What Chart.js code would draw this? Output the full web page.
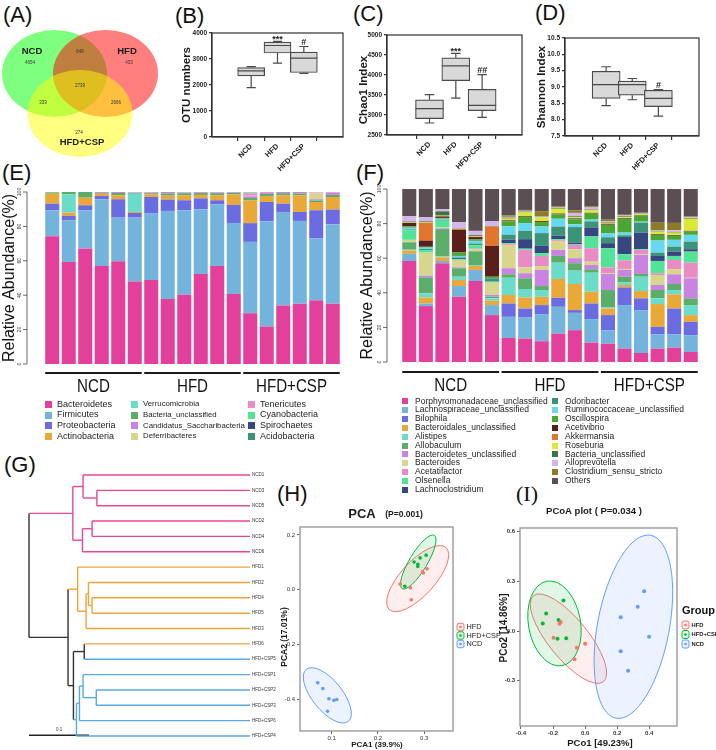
<!DOCTYPE html>
<html>
<head>
<meta charset="utf-8">
<title>Gut microbiota panels</title>
<script src="https://cdn.jsdelivr.net/npm/chart.js@4.4.1/dist/chart.umd.min.js"></script>
<style>
  body { margin: 0; background: #fff; }
  #page { position: relative; width: 716px; height: 750px; overflow: hidden; font-family: "Liberation Sans", Arial, sans-serif; color: #111; }
  #page canvas { position: absolute; }
  .panel { position: absolute; font-size: 22px; line-height: 22px; }
  .key { position: absolute; white-space: nowrap; line-height: 1; color: #222; }
  .key b { position: absolute; left: 0; }
</style>
</head>
<body>
<div id="page">
  <div class="panel" style="left:3px;top:4px">(A)</div>
  <div class="panel" style="left:175px;top:5px">(B)</div>
  <div class="panel" style="left:353px;top:3px">(C)</div>
  <div class="panel" style="left:535px;top:2px">(D)</div>
  <div class="panel" style="left:2px;top:162px">(E)</div>
  <div class="panel" style="left:356px;top:162px">(F)</div>
  <div class="panel" style="left:4px;top:454px">(G)</div>
  <div class="panel" style="left:277px;top:483px">(H)</div>
  <div class="panel" style="left:516px;top:483px;font-family:'Liberation Serif',serif">(I)</div>
</div>
<script>
// ---------- (A) Venn ----------
const vennSets = ['NCD', 'HFD', 'HFD+CSP'];
const vennRegions = ['NCD', 'HFD', 'HFD+CSP', 'NCD&HFD', 'NCD&HFD+CSP', 'HFD&HFD+CSP', 'all'];
const vennCounts = [4654, 433, 274, 648, 333, 2666, 2739];

// ---------- (B)-(D) alpha diversity ----------
const groups = ['NCD', 'HFD', 'HFD+CSP'];
const otuMin = [1900, 2840, 2450];
const otuQ1 = [2350, 3230, 2480];
const otuMed = [2540, 3520, 3030];
const otuQ3 = [2670, 3650, 3265];
const otuMax = [2710, 3680, 3480];
const otuSig = ['', '***', '#'];

const chaoMin = [2800, 3420, 2940];
const chaoQ1 = [2910, 3860, 3110];
const chaoMed = [3160, 4230, 3240];
const chaoQ3 = [3380, 4430, 3640];
const chaoMax = [3510, 4540, 4010];
const chaoSig = ['', '***', '##'];

const shanMin = [8.43, 8.61, 8.11];
const shanQ1 = [8.65, 8.75, 8.40];
const shanMed = [9.07, 9.07, 8.65];
const shanQ3 = [9.48, 9.18, 8.90];
const shanMax = [9.62, 9.26, 8.92];
const shanSig = ['', '', '#'];

// ---------- (E) phylum level ----------
const samples = ['NCD1', 'NCD2', 'NCD3', 'NCD4', 'NCD5', 'NCD6', 'HFD1', 'HFD2', 'HFD3', 'HFD4', 'HFD5', 'HFD6',
  'HFD+CSP1', 'HFD+CSP2', 'HFD+CSP3', 'HFD+CSP4', 'HFD+CSP5', 'HFD+CSP6'];
const abundanceTicks = [0, 20, 40, 60, 80, 100];

const phyla = ['Bacteroidetes', 'Firmicutes', 'Proteobacteria', 'Actinobacteria', 'Verrucomicrobia', 'Bacteria_unclassified',
  'Candidatus_Saccharibacteria', 'Deferribacteres', 'Tenericutes', 'Cyanobacteria', 'Spirochaetes', 'Acidobacteria'];
const bacteroidetes = [74.3, 59.3, 67.2, 57.0, 59.8, 47.9, 48.8, 37.8, 40.2, 52.3, 57.0, 40.7, 29.5, 21.8, 34.0, 35.0, 37.0, 35.0];
const firmicutes = [15.1, 24.3, 22.2, 38.8, 25.3, 37.2, 38.8, 51.2, 49.2, 37.7, 35.9, 41.3, 41.5, 61.2, 54.4, 48.2, 36.0, 46.3];
const proteobacteria = [3.8, 2.5, 2.9, 1.9, 10.7, 2.7, 9.5, 6.6, 5.8, 6.3, 2.3, 10.5, 10.9, 11.2, 4.8, 5.2, 16.4, 8.5];
const actinobacteria = [5.8, 1.9, 4.4, 1.3, 2.3, 0.6, 1.5, 2.3, 2.9, 2.0, 2.9, 6.1, 13.3, 3.5, 4.9, 9.7, 4.8, 7.3];
const verrucomicrobia = [0, 10.6, 0, 0, 0, 10.6, 0, 0, 0, 0, 0, 0, 0, 0, 0, 0, 0, 0];
const bacteriaUnclPhy = [0.8, 1.4, 3.3, 0.5, 1.3, 0.5, 0.7, 1.3, 1.2, 1.1, 1.2, 0.9, 1.3, 1.2, 1.2, 1.0, 0.8, 1.2];
const saccharibacteria = [0, 0, 0, 0.5, 0.6, 0.3, 0.3, 0.8, 0.5, 0.5, 0.5, 0.4, 1.0, 0.6, 0.7, 0.9, 0.8, 1.4];
const deferribacteres = [0, 0, 0, 0, 0, 0, 0, 0, 0, 0, 0, 0, 0.3, 0, 0, 0, 3.5, 0];
const tenericutes = [0.1, 0, 0, 0, 0, 0.1, 0.4, 0, 0.1, 0.1, 0.2, 0.1, 1.5, 0.5, 0, 0, 0.5, 0.3];
const cyanobacteria = [0, 0, 0, 0, 0, 0, 0, 0, 0, 0, 0, 0, 0.5, 0, 0, 0, 0, 0];
const spirochaetes = [0, 0, 0, 0, 0, 0, 0, 0, 0, 0, 0, 0, 0.1, 0, 0, 0, 0, 0];
const acidobacteria = [0, 0, 0, 0, 0, 0, 0, 0, 0, 0, 0, 0, 0, 0, 0, 0, 0, 0];
const phylumSeries = [bacteroidetes, firmicutes, proteobacteria, actinobacteria, verrucomicrobia, bacteriaUnclPhy,
  saccharibacteria, deferribacteres, tenericutes, cyanobacteria, spirochaetes, acidobacteria];
const phylumColors = ['#e2409a', '#74b3dc', '#6c6ce2', '#e9a838', '#6cdcca', '#5aae6a',
  '#c984e2', '#d6d68c', '#ea8cc4', '#52e496', '#36467e', '#3c9274'];

// ---------- (F) genus level ----------
const genera = ['Porphyromonadaceae_unclassified', 'Lachnospiraceae_unclassified', 'Bilophila', 'Bacteroidales_unclassified',
  'Alistipes', 'Allobaculum', 'Bacteroidetes_unclassified', 'Bacteroides', 'Acetatifactor', 'Olsenella', 'Lachnoclostridium',
  'Odoribacter', 'Ruminococcaceae_unclassified', 'Oscillospira', 'Acetivibrio', 'Akkermansia', 'Roseburia',
  'Bacteria_unclassified', 'Alloprevotella', 'Clostridium_sensu_stricto', 'Others'];
const porphyromonadaceae = [58.4, 32.3, 57.1, 37.7, 46.8, 27.1, 13.9, 13.5, 12.0, 16.4, 18.4, 11.2, 10.6, 7.7, 5.2, 7.7, 8.3, 5.8];
const lachnospiraceae = [4.1, 1.5, 1.3, 6.2, 6.0, 5.8, 12.2, 12.2, 15.7, 15.5, 10.0, 13.6, 7.8, 25.2, 24.8, 8.4, 7.8, 9.7];
const bilophila = [0, 0, 0, 0, 0.4, 0, 7.7, 5.2, 5.2, 5.2, 1.6, 9.0, 8.7, 10.2, 6.8, 4.2, 14.8, 7.7];
const bacteroidales = [1.9, 3.5, 2.1, 3.5, 2.3, 2.5, 4.9, 6.4, 4.8, 10.9, 15.1, 6.8, 3.8, 1.4, 4.2, 13.2, 8.2, 3.9];
const alistipes = [0.5, 2.4, 0.5, 1.9, 0.5, 1.4, 10.0, 4.9, 3.9, 9.4, 7.7, 11.0, 0.6, 1.5, 8.3, 3.3, 2.5, 5.8];
const allobaculum = [4.3, 9.2, 15.8, 4.9, 8.0, 1.0, 2.0, 6.2, 2.3, 3.9, 4.3, 2.0, 10.1, 3.3, 1.6, 4.8, 3.5, 3.9];
const bacteroidetesUncl = [0, 1.0, 0.5, 0.5, 0, 1.0, 3.5, 2.9, 9.3, 3.5, 2.9, 2.5, 9.3, 3.9, 11.0, 2.9, 5.6, 11.6];
const bacteroides = [1.4, 13.3, 0.5, 4.3, 1.0, 7.1, 13.5, 3.4, 2.3, 5.2, 5.2, 1.9, 0.5, 0.6, 0.4, 5.8, 2.9, 0.3];
const acetatifactor = [0, 0, 0, 0, 0.5, 0, 0.5, 10.1, 5.8, 0.5, 2.5, 7.8, 3.3, 5.0, 2.5, 1.0, 5.4, 8.7];
const olsenella = [5.5, 1.5, 3.9, 0.5, 2.0, 0.5, 0.5, 0.7, 1.6, 0.5, 0.5, 6.8, 11.1, 3.5, 0.5, 7.1, 2.3, 6.4];
const lachnoclostridium = [0, 0, 0, 0.5, 0, 0, 2.0, 5.5, 4.2, 2.0, 0.8, 5.2, 2.9, 10.0, 9.5, 2.9, 2.5, 1.4];
const odoribacter = [0.5, 0.6, 0.5, 0.5, 1.0, 2.0, 2.9, 4.8, 7.4, 5.3, 9.0, 3.5, 3.4, 1.0, 5.8, 1.9, 2.9, 4.4];
const ruminococcaceae = [1.0, 0.8, 0.6, 0.8, 1.5, 0, 4.8, 4.5, 3.8, 4.5, 1.6, 1.0, 2.4, 1.5, 0.5, 7.0, 3.9, 3.9];
const oscillospira = [0.8, 0.5, 0.5, 2.0, 1.0, 0.9, 2.9, 3.5, 2.6, 2.5, 2.9, 3.5, 4.8, 8.0, 3.5, 3.3, 2.3, 1.9];
const acetivibrio = [2.0, 3.6, 0.8, 13.2, 1.2, 17.8, 0.5, 0.4, 0.5, 0.5, 0.5, 0.4, 0.4, 0.4, 0.3, 0.4, 0.4, 0.4];
const akkermansia = [0, 10.2, 0.3, 0.3, 0.3, 11.2, 0.3, 0, 0, 0, 0, 0, 0.4, 0, 0, 0, 0, 0];
const roseburia = [0.3, 0.3, 0.2, 0.3, 0.3, 0, 0.8, 2.3, 2.3, 2.8, 0.7, 1.5, 0.4, 0.5, 0.5, 1.5, 1.5, 7.0];
const bacteriaUnclGen = [0.5, 0.6, 2.5, 0.3, 0.5, 0.3, 0.5, 0.4, 0.3, 0.5, 0.5, 0.4, 0.4, 0.5, 0.3, 0.4, 0.4, 0.4];
const alloprevotella = [3.0, 2.3, 1.2, 3.4, 2.5, 2.9, 0.5, 0.5, 0.3, 0.5, 2.0, 1.2, 0.4, 0.5, 0.3, 0.5, 1.0, 0.5];
const clostridiumSS = [0, 0, 0, 0, 0, 0, 0.8, 0.5, 2.9, 0.5, 1.5, 0.5, 1.0, 0.4, 0.3, 4.2, 4.2, 0.5];
const othersGen = [15.8, 16.4, 11.7, 19.2, 24.2, 18.5, 15.3, 12.1, 12.8, 9.9, 12.3, 10.2, 17.7, 14.9, 13.7, 19.5, 19.6, 15.8];
const genusSeries = [porphyromonadaceae, lachnospiraceae, bilophila, bacteroidales, alistipes, allobaculum, bacteroidetesUncl,
  bacteroides, acetatifactor, olsenella, lachnoclostridium, odoribacter, ruminococcaceae, oscillospira, acetivibrio,
  akkermansia, roseburia, bacteriaUnclGen, alloprevotella, clostridiumSS, othersGen];
const genusColors = ['#e2409a', '#74b3dc', '#6c6ce2', '#e9a838', '#6cdcca', '#5aae6a', '#c984e2', '#d6d68c', '#ea8cc4',
  '#52e496', '#36467e', '#3c9478', '#66d8f2', '#4aa832', '#5a1f1a', '#e2752e', '#dce838', '#3b7543', '#d4b6ec',
  '#8e7b2a', '#5b4f53'];

// ---------- (G) clustering tree ----------
const leaves = ['NCD1', 'NCD3', 'NCD5', 'NCD2', 'NCD4', 'NCD6', 'HFD1', 'HFD2', 'HFD4', 'HFD5', 'HFD3', 'HFD6',
  'HFD+CSP5', 'HFD+CSP1', 'HFD+CSP2', 'HFD+CSP3', 'HFD+CSP6', 'HFD+CSP4'];
const tipDepth = 0.368;
// h = node distance from root
const tree = {h: 0, c: [
  {h: 0.073, c: [
    {h: 0.090, c: ['NCD1', {h: 0.113, c: ['NCD3', 'NCD5']}]},
    {h: 0.089, c: [{h: 0.105, c: ['NCD2', 'NCD4']}, 'NCD6']}
  ]},
  {h: 0.065, c: [
    {h: 0.081, c: ['HFD1', {h: 0.095, c: [{h: 0.099, c: ['HFD2', {h: 0.105, c: ['HFD4', 'HFD5']}]}, 'HFD3']}]},
    {h: 0.074, c: [
      {h: 0.092, c: ['HFD6', 'HFD+CSP5']},
      {h: 0.079, c: [{h: 0.084, c: [{h: 0.090, c: ['HFD+CSP1', {h: 0.112, c: ['HFD+CSP2', 'HFD+CSP3']}]}, 'HFD+CSP6']}, 'HFD+CSP4']}
    ]}
  ]}
]};
const scaleBarLength = 0.1;

// ---------- (H) PCA / (I) PCoA ----------
const pcGroups = ['HFD', 'HFD+CSP', 'NCD'];
const pcaHFD = [[0.248, 0.020], [0.270, 0.007], [0.272, -0.037], [0.296, 0.065], [0.298, 0.061], [0.306, 0.076]];
const pcaCSP = [[0.258, 0.012], [0.278, 0.101], [0.286, 0.093], [0.286, 0.085], [0.291, 0.116], [0.304, 0.126]];
const pcaNCD = [[0.070, -0.341], [0.081, -0.362], [0.094, -0.399], [0.105, -0.405], [0.111, -0.402], [0.091, -0.445]];
const pcaEllipses = [
  {c: [0.2857, 0.0402], u: [0.0612, 0.1134], v: [0.0273, -0.0421]},
  {c: [0.287, 0.101], u: [0.0346, 0.0976], v: [0.0165, -0.0165]},
  {c: [0.0906, -0.3866], u: [0.0454, -0.0952], v: [0.0252, 0.0346]}
];
const pcoaHFD = [[-0.197, -0.040], [-0.160, 0.044], [-0.152, 0.054], [-0.052, -0.100], [0.000, -0.076], [-0.066, -0.170]];
const pcoaCSP = [[-0.243, 0.106], [-0.264, 0.046], [-0.166, 0.066], [-0.172, -0.046], [-0.118, -0.044], [-0.135, 0.184]];
const pcoaNCD = [[0.368, 0.240], [0.328, 0.146], [0.222, 0.084], [0.399, -0.034], [0.222, -0.122], [0.268, -0.240]];
const pcoaEllipses = [
  {c: [-0.104, -0.046], u: [0.218, -0.26], v: [0.097, 0.074]},
  {c: [-0.191, 0.046], u: [0.0467, -0.255], v: [0.160, 0.0272]},
  {c: [0.301, 0.026], u: [0.108, 0.552], v: [0.220, -0.04]}
];
const pcColors = ['#f8766d', '#00ba38', '#619cff'];
const pcFills = ['rgba(248,118,109,0.12)', 'rgba(0,186,56,0.12)', 'rgba(97,156,255,0.12)'];

// ================= drawing =================
Chart.defaults.font.family = '"Liberation Sans", Arial, sans-serif';
Chart.defaults.color = '#222';
Chart.defaults.animation = false;
Chart.defaults.responsive = false;
Chart.defaults.plugins.legend.display = false;
Chart.defaults.plugins.tooltip.enabled = false;

const page = document.getElementById('page');
const FONT = '"Liberation Sans", Arial, sans-serif';

function canvasAt(left, top, w, h) {
  const c = document.createElement('canvas');
  c.width = w;
  c.height = h;
  c.style.left = left + 'px';
  c.style.top = top + 'px';
  page.appendChild(c);
  return {el: c, left, top};
}

// texts given in page coordinates
function textLayer(cv, items) {
  return {
    id: 'textLayer',
    afterDraw(chart) {
      const ctx = chart.ctx;
      items.forEach(it => {
        ctx.save();
        ctx.font = it.font;
        ctx.fillStyle = it.color || '#1a1a1a';
        ctx.textAlign = it.align || 'center';
        ctx.textBaseline = 'middle';
        ctx.translate(it.x - cv.left, it.y - cv.top);
        if (it.rot) ctx.rotate(it.rot * Math.PI / 180);
        ctx.fillText(it.text, 0, 0);
        ctx.restore();
      });
    }
  };
}

// ellipse from centre + two conjugate semi-axes, all in data units
function ellipseLayer(list) {
  return {
    id: 'ellipseLayer',
    beforeDatasetsDraw(chart) {
      const {ctx, scales: {x, y}} = chart;
      list.forEach(e => {
        const cx = x.getPixelForValue(e.c[0]), cy = y.getPixelForValue(e.c[1]);
        const ux = x.getPixelForValue(e.c[0] + e.u[0]) - cx, uy = y.getPixelForValue(e.c[1] + e.u[1]) - cy;
        const vx = x.getPixelForValue(e.c[0] + e.v[0]) - cx, vy = y.getPixelForValue(e.c[1] + e.v[1]) - cy;
        ctx.save();
        ctx.beginPath();
        ctx.transform(ux, uy, vx, vy, cx, cy);
        ctx.arc(0, 0, 1, 0, Math.PI * 2);
        ctx.restore();
        ctx.save();
        if (e.fill) { ctx.fillStyle = e.fill; ctx.fill(); }
        if (e.stroke) { ctx.strokeStyle = e.stroke; ctx.lineWidth = e.lw || 1; ctx.stroke(); }
        ctx.restore();
      });
    }
  };
}

function frame(color, width) {
  return {
    id: 'frame',
    afterDraw(chart) {
      const {ctx, chartArea: a} = chart;
      ctx.save();
      ctx.strokeStyle = color;
      ctx.lineWidth = width;
      ctx.strokeRect(a.left, a.top, a.right - a.left, a.bottom - a.top);
      ctx.restore();
    }
  };
}

// ---------- (A) ----------
const vennLayout = {centers: [[54.5, 73.5], [105.5, 73.5], [80, 113.5]], rx: 52.5, ry: 43.5,
  labelPos: [[32, 51], [127, 51], [82, 142]],
  countPos: [[30, 63], [129, 63], [79, 133], [80, 52], [43, 103], [116, 103], [80, 86]]};
const vennFills = ['rgba(0,255,0,0.5)', 'rgba(255,0,0,0.5)', 'rgba(255,255,0,0.5)'];
const vennCv = canvasAt(0, 25, 165, 140);
new Chart(vennCv.el, {
  type: 'scatter',
  data: {datasets: []},
  options: {
    layout: {padding: 0},
    scales: {x: {display: false, min: 0, max: 165}, y: {display: false, min: 25, max: 165, reverse: true}}
  },
  plugins: [
    ellipseLayer(vennSets.map((s, i) => ({c: vennLayout.centers[i], u: [vennLayout.rx, 0], v: [0, vennLayout.ry], fill: vennFills[i]}))),
    textLayer(vennCv, vennSets.map((s, i) => ({text: s, x: vennLayout.labelPos[i][0], y: vennLayout.labelPos[i][1], font: 'bold 9.5px ' + FONT}))
      .concat(vennCounts.map((n, i) => ({text: String(n), x: vennLayout.countPos[i][0], y: vennLayout.countPos[i][1], font: '4.5px ' + FONT, color: '#333'}))))
  ]
});

// ---------- (B)-(D) ----------
function boxWhiskers(mins, meds, maxs, sigs) {
  return {
    id: 'boxWhiskers',
    afterDatasetsDraw(chart) {
      const {ctx, scales: {y}} = chart;
      const bars = chart.getDatasetMeta(0).data;
      ctx.save();
      ctx.strokeStyle = '#4a4a4a';
      ctx.lineWidth = 1.2;
      bars.forEach((bar, i) => {
        const w = bar.width, cx = bar.x;
        const top = Math.min(bar.y, bar.base), bottom = Math.max(bar.y, bar.base);
        const yMin = y.getPixelForValue(mins[i]), yMax = y.getPixelForValue(maxs[i]), yMed = y.getPixelForValue(meds[i]);
        const cap = w * 0.17;
        ctx.beginPath();
        ctx.moveTo(cx, top); ctx.lineTo(cx, yMax);
        ctx.moveTo(cx - cap, yMax); ctx.lineTo(cx + cap, yMax);
        ctx.moveTo(cx, bottom); ctx.lineTo(cx, yMin);
        ctx.moveTo(cx - cap, yMin); ctx.lineTo(cx + cap, yMin);
        ctx.moveTo(cx - w / 2, yMed); ctx.lineTo(cx + w / 2, yMed);
        ctx.stroke();
        if (sigs[i]) {
          ctx.fillStyle = '#222';
          ctx.font = 'bold 9px ' + FONT;
          ctx.textAlign = 'center';
          ctx.textBaseline = 'middle';
          ctx.fillText(sigs[i], cx, yMax - (sigs[i].includes('*') ? 1.5 : 4.5));
        }
      });
      ctx.restore();
    }
  };
}

function boxChart(cv, s) {
  new Chart(cv.el, {
    type: 'bar',
    data: {datasets: [{
      data: groups.map((g, i) => ({x: i, y: [s.q1[i], s.q3[i]]})),
      backgroundColor: '#d9d9d9', borderColor: '#4a4a4a', borderWidth: 1.2, borderSkipped: false,
      barThickness: s.boxW
    }]},
    options: {
      layout: {padding: {left: 0, right: s.padR, top: s.padT, bottom: 0}},
      scales: {
        x: {
          type: 'linear', min: s.xMin, max: s.xMax,
          afterBuildTicks(sc) { sc.ticks = groups.map((g, i) => ({value: i})); },
          afterFit(sc) { sc.height = s.xH; },
          ticks: {callback: v => groups[v], autoSkip: false, minRotation: 45, maxRotation: 45, padding: 1,
            font: {size: 7.5, weight: 'bold'}, color: '#222'},
          grid: {drawOnChartArea: false, tickLength: 4, color: '#333', lineWidth: 1.2},
          border: {color: '#333', width: 1.2}
        },
        y: {
          min: s.yMin, max: s.yMax,
          afterBuildTicks(sc) { sc.ticks = s.ticks.map(v => ({value: v})); },
          afterFit(sc) { sc.width = s.yW; },
          ticks: {callback: s.fmt, padding: 2, font: {size: 6.5, weight: 'bold'}, color: '#222'},
          grid: {drawOnChartArea: false, tickLength: 3, color: '#333', lineWidth: 1.2},
          border: {color: '#333', width: 1.2}
        }
      }
    },
    plugins: [boxWhiskers(s.min, s.med, s.max, s.sig), frame('#333', 1.2),
      textLayer(cv, [{text: s.title, x: s.titleX, y: s.titleY, rot: -90, font: 'bold 11.5px ' + FONT}])]
  });
}

boxChart(canvasAt(175, 25, 175, 165), {
  q1: otuQ1, q3: otuQ3, min: otuMin, med: otuMed, max: otuMax, sig: otuSig,
  yMin: 0, yMax: 4000, ticks: [0, 1000, 2000, 3000, 4000], fmt: v => String(v),
  xMin: -0.658, xMax: 2.658, boxW: 27, yW: 37, padR: 7, padT: 8, xH: 53,
  title: 'OTU numbers', titleX: 187, titleY: 85
});
boxChart(canvasAt(352, 25, 175, 165), {
  q1: chaoQ1, q3: chaoQ3, min: chaoMin, med: chaoMed, max: chaoMax, sig: chaoSig,
  yMin: 2500, yMax: 5000, ticks: [2500, 3000, 3500, 4000, 4500, 5000], fmt: v => String(v),
  xMin: -0.76, xMax: 2.66, boxW: 28, yW: 35, padR: 5, padT: 10, xH: 55,
  title: 'Chao1 Index', titleX: 364, titleY: 90
});
boxChart(canvasAt(530, 25, 180, 165), {
  q1: shanQ1, q3: shanQ3, min: shanMin, med: shanMed, max: shanMax, sig: shanSig,
  yMin: 7.5, yMax: 10.5, ticks: [7.5, 8, 8.5, 9, 9.5, 10, 10.5], fmt: v => v.toFixed(1),
  xMin: -0.72, xMax: 2.7, boxW: 28, yW: 35, padR: 11, padT: 13, xH: 54,
  title: 'Shannon Index', titleX: 542, titleY: 87
});

// ---------- (E) / (F) ----------
const sampleGroup = samples.map(s => s.replace(/\d+$/, ''));

function abundanceAxis(cfg) {
  return {
    id: 'abundanceAxis',
    afterDraw(chart) {
      const {ctx, scales: {y}} = chart;
      ctx.save();
      ctx.strokeStyle = '#444';
      ctx.lineWidth = 0.8;
      ctx.beginPath();
      ctx.moveTo(cfg.axisX, y.getPixelForValue(0));
      ctx.lineTo(cfg.axisX, y.getPixelForValue(100));
      abundanceTicks.forEach(v => {
        const py = y.getPixelForValue(v);
        ctx.moveTo(cfg.axisX, py);
        ctx.lineTo(cfg.axisX - 4, py);
      });
      ctx.stroke();
      ctx.fillStyle = '#333';
      ctx.font = '5px ' + FONT;
      ctx.textAlign = 'center';
      ctx.textBaseline = 'middle';
      abundanceTicks.forEach(v => {
        ctx.save();
        ctx.translate(cfg.axisX - 7.5, y.getPixelForValue(v));
        ctx.rotate(-Math.PI / 2);
        ctx.fillText(String(v), 0, 0);
        ctx.restore();
      });
      ctx.save();
      ctx.font = '16px ' + FONT;
      ctx.fillStyle = '#111';
      ctx.translate(cfg.titleX, (y.top + y.bottom) / 2);
      ctx.rotate(-Math.PI / 2);
      ctx.fillText('Relative Abundance(%)', 0, 0);
      ctx.restore();
      const bars = chart.getDatasetMeta(0).data;
      groups.forEach(g => {
        const first = sampleGroup.indexOf(g), last = sampleGroup.lastIndexOf(g);
        const x0 = bars[first].x - bars[first].width / 2, x1 = bars[last].x + bars[last].width / 2;
        ctx.strokeStyle = '#1a1a1a';
        ctx.lineWidth = 2.2;
        ctx.beginPath();
        ctx.moveTo(x0, cfg.groupY);
        ctx.lineTo(x1, cfg.groupY);
        ctx.stroke();
        // condensed group label
        ctx.save();
        ctx.fillStyle = '#111';
        ctx.font = '18px ' + FONT;
        ctx.translate((x0 + x1) / 2, cfg.labelY);
        ctx.scale(0.84, 1);
        ctx.fillText(g, 0, 0);
        ctx.restore();
      });
      ctx.restore();
    }
  };
}

function abundanceChart(cv, names, series, colors, pad, cfg) {
  new Chart(cv.el, {
    type: 'bar',
    data: {
      labels: samples,
      datasets: names.map((n, k) => ({label: n, data: series[k], backgroundColor: colors[k], borderWidth: 0,
        barPercentage: 0.85, categoryPercentage: 1}))
    },
    options: {
      layout: {padding: pad},
      scales: {
        x: {display: false, stacked: true},
        y: {display: false, stacked: true, min: 0, max: 100}
      }
    },
    plugins: [abundanceAxis(cfg)]
  });
}

function htmlLegend(names, colors, o) {
  names.forEach((n, k) => {
    const col = Math.floor(k / o.rows), row = k % o.rows;
    const size = o.sizes[col];
    const d = document.createElement('div');
    d.className = 'key';
    d.style.left = o.cols[col] + 'px';
    d.style.top = (o.top + row * o.step + (o.sizes[0] - size) / 2) + 'px';
    d.style.fontSize = size + 'px';
    d.style.paddingLeft = o.indent + 'px';
    const b = document.createElement('b');
    b.style.background = colors[k];
    b.style.width = o.box + 'px';
    b.style.height = o.box + 'px';
    b.style.top = ((size - o.box) / 2 + 0.5) + 'px';
    d.appendChild(b);
    d.appendChild(document.createTextNode(n));
    page.appendChild(d);
  });
}

abundanceChart(canvasAt(0, 180, 355, 218), phyla, phylumSeries, phylumColors,
  {left: 44, right: 14, top: 12, bottom: 34}, {axisX: 27, titleX: 10, groupY: 193, labelY: 207});
htmlLegend(phyla, phylumColors, {rows: 4, cols: [45, 131, 248], sizes: [9, 7.8, 9], top: 399.5, step: 10.7, indent: 12, box: 7});

abundanceChart(canvasAt(360, 180, 356, 218), genera, genusSeries, genusColors,
  {left: 41, right: 17, top: 9, bottom: 36}, {axisX: 27, titleX: 8, groupY: 192, labelY: 206});
htmlLegend(genera, genusColors, {rows: 11, cols: [402, 552], sizes: [8.5, 8.5], top: 396.5, step: 8.85, indent: 13, box: 6});

// ---------- (G) ----------
const treeBlack = '#333';
function leafColor(name) {
  if (name.startsWith('HFD+CSP')) return '#5aa9e2';
  if (name.startsWith('HFD')) return '#eda43a';
  return '#e8479a';
}
function layoutTree(node, segs) {
  if (typeof node === 'string') return {y: leaves.indexOf(node), col: leafColor(node), h: tipDepth};
  const kids = node.c.map(k => layoutTree(k, segs));
  const ys = kids.map(k => k.y);
  const col = kids.every(k => k.col === kids[0].col) ? kids[0].col : treeBlack;
  kids.forEach(k => segs.push({pts: [{x: node.h, y: k.y}, {x: k.h, y: k.y}], col: k.col}));
  segs.push({pts: [{x: node.h, y: Math.min(...ys)}, {x: node.h, y: Math.max(...ys)}], col});
  return {y: (Math.min(...ys) + Math.max(...ys)) / 2, col, h: node.h};
}
const treeSegs = [];
layoutTree(tree, treeSegs);
const scaleBarY = leaves.length - 1.05;

const treeCv = canvasAt(0, 460, 290, 290);
new Chart(treeCv.el, {
  type: 'scatter',
  data: {datasets: treeSegs.map(s => ({data: s.pts, showLine: true, borderColor: s.col, borderWidth: 1.4,
    pointRadius: 0, clip: false}))
    .concat([{data: [{x: 0, y: scaleBarY}, {x: scaleBarLength, y: scaleBarY}], showLine: true, borderColor: '#222',
      borderWidth: 1.4, pointRadius: 0, clip: false}])},
  options: {
    layout: {padding: {left: 29, right: 40, top: 15, bottom: 14}},
    scales: {x: {display: false, min: 0, max: tipDepth}, y: {display: false, min: 0, max: leaves.length - 1, reverse: true}}
  },
  plugins: [{
    id: 'leafLabels',
    afterDraw(chart) {
      const {ctx, chartArea, scales: {x, y}} = chart;
      ctx.save();
      ctx.fillStyle = '#333';
      ctx.font = '4.5px ' + FONT;
      ctx.textAlign = 'left';
      ctx.textBaseline = 'middle';
      leaves.forEach((n, i) => ctx.fillText(n, chartArea.right + 2, y.getPixelForValue(i)));
      ctx.textAlign = 'center';
      ctx.fillText(String(scaleBarLength), x.getPixelForValue(scaleBarLength / 2), y.getPixelForValue(scaleBarY) - 5);
      ctx.restore();
    }
  }]
});

// ---------- (H) / (I) ----------
function groupKeys(cfg) {
  return {
    id: 'groupKeys',
    afterDraw(chart) {
      const ctx = chart.ctx;
      ctx.save();
      ctx.textAlign = 'left';
      ctx.textBaseline = 'middle';
      if (cfg.title) {
        ctx.font = cfg.titleFont;
        ctx.fillStyle = '#111';
        ctx.fillText(cfg.title, cfg.x, cfg.titleY);
      }
      pcGroups.forEach((g, k) => {
        const y = cfg.ys[k];
        ctx.strokeStyle = pcColors[k];
        ctx.fillStyle = pcFills[k];
        ctx.lineWidth = 1;
        ctx.beginPath();
        if (ctx.roundRect) ctx.roundRect(cfg.x, y - cfg.h / 2, cfg.w, cfg.h, 2);
        else ctx.rect(cfg.x, y - cfg.h / 2, cfg.w, cfg.h);
        ctx.fill();
        ctx.stroke();
        ctx.fillStyle = pcColors[k];
        ctx.beginPath();
        ctx.arc(cfg.x + cfg.w / 2, y, 1.3, 0, Math.PI * 2);
        ctx.fill();
        ctx.fillStyle = '#222';
        ctx.font = cfg.font;
        ctx.fillText(g, cfg.x + cfg.w + cfg.gap, y);
      });
      ctx.restore();
    }
  };
}

function pcChart(cv, s) {
  const pts = [s.hfd, s.csp, s.ncd];
  new Chart(cv.el, {
    type: 'scatter',
    data: {datasets: pcGroups.map((g, k) => ({label: g, data: pts[k].map(p => ({x: p[0], y: p[1]})),
      backgroundColor: pcColors[k], borderWidth: 0, pointRadius: s.r}))},
    options: {
      layout: {padding: {left: 0, right: s.padR, top: s.padT, bottom: 0}},
      scales: {
        x: {
          min: s.xMin, max: s.xMax,
          afterBuildTicks(sc) { sc.ticks = s.xTicks.map(v => ({value: v})); },
          afterFit(sc) { sc.height = s.xH; },
          ticks: {callback: v => v.toFixed(1), padding: 1, font: {size: 6, weight: s.tickWeight}, color: '#333'},
          grid: {drawOnChartArea: false, tickLength: 3, color: '#666'},
          border: {display: false}
        },
        y: {
          min: s.yMin, max: s.yMax,
          afterBuildTicks(sc) { sc.ticks = s.yTicks.map(v => ({value: v})); },
          afterFit(sc) { sc.width = s.yW; },
          ticks: {callback: v => v.toFixed(1), padding: 2, font: {size: 6, weight: s.tickWeight}, color: '#333'},
          grid: {drawOnChartArea: false, tickLength: 3, color: '#666'},
          border: {display: false}
        }
      }
    },
    plugins: [
      ellipseLayer(s.ellipses.map((e, k) => Object.assign({fill: pcFills[k], stroke: pcColors[k], lw: 1}, e))),
      frame('#9a9a9a', 1.4),
      groupKeys(s.keys),
      textLayer(cv, s.texts)
    ]
  });
}

const pcaCv = canvasAt(250, 500, 262, 250);
pcChart(pcaCv, {
  hfd: pcaHFD, csp: pcaCSP, ncd: pcaNCD, ellipses: pcaEllipses, r: 1.8,
  xMin: 0.0316, xMax: 0.362, yMin: -0.517, yMax: 0.229,
  xTicks: [0.1, 0.2, 0.3], yTicks: [-0.4, -0.2, 0, 0.2], tickWeight: 'normal',
  yW: 50, padR: 59, padT: 27, xH: 19,
  keys: {x: 207, ys: [127, 135.5, 144], w: 7, h: 7.5, gap: 2.5, font: '7.3px ' + FONT},
  texts: [
    {text: 'PCA', x: 362, y: 514, font: 'bold 13px ' + FONT},
    {text: '(P=0.001)', x: 404, y: 515, font: 'bold 8.5px ' + FONT},
    {text: 'PCA1 (39.9%)', x: 377, y: 745, font: 'bold 8px ' + FONT},
    {text: 'PCA2 (17.01%)', x: 284.5, y: 637, rot: -90, font: 'bold 8.5px ' + FONT}
  ]
});

const pcoaCv = canvasAt(470, 500, 246, 250);
pcChart(pcoaCv, {
  hfd: pcoaHFD, csp: pcoaCSP, ncd: pcoaNCD, ellipses: pcoaEllipses, r: 2,
  xMin: -0.406, xMax: 0.573, yMin: -0.573, yMax: 0.622,
  xTicks: [-0.4, -0.2, 0, 0.2, 0.4], yTicks: [-0.3, 0, 0.3, 0.6], tickWeight: 'bold',
  yW: 50, padR: 39, padT: 28, xH: 24,
  keys: {x: 212, ys: [125, 134.5, 144], w: 7, h: 8, gap: 2.5, font: 'bold 5.8px ' + FONT,
    title: 'Group', titleY: 111, titleFont: 'bold 11px ' + FONT},
  texts: [
    {text: 'PCoA plot ( P=0.034 )', x: 594, y: 511, font: 'bold 9.5px ' + FONT},
    {text: 'PCo1 [49.23%]', x: 600, y: 743, font: 'bold 9.5px ' + FONT},
    {text: 'PCo2 [14.86%]', x: 504, y: 628, rot: -90, font: 'bold 10px ' + FONT}
  ]
});
</script>
</body>
</html>
